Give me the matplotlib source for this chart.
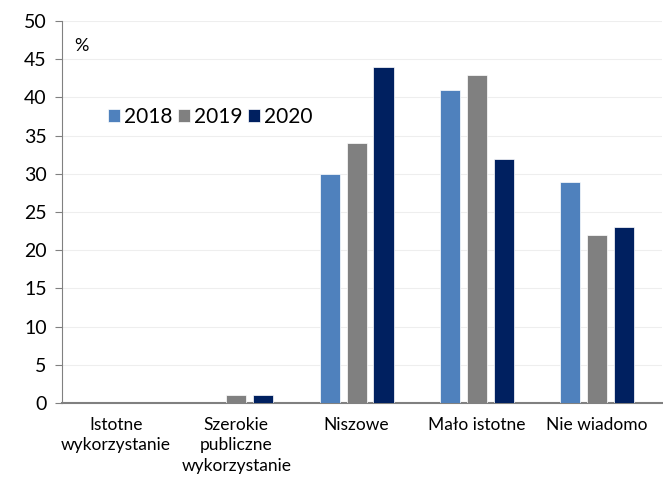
import matplotlib.pyplot as plt
import numpy as np

categories = ["Istotne\nwykorzystanie", "Szerokie\npubliczne\nwykorzystanie",
              "Niszowe", "Mało istotne", "Nie wiadomo"]
years = ["2018", "2019", "2020"]
v2018 = [0, 0, 30, 41, 29]
v2019 = [0, 1, 34, 43, 22]
v2020 = [0, 1, 44, 32, 23]
colors = ["#4f81bd", "#808080", "#002060"]

plt.rcParams['font.family'] = ['Lato', 'DejaVu Sans']

fig = plt.figure(figsize=(6.63, 4.8), dpi=100)
ax = fig.add_axes([0.0935, 0.1604, 0.905, 0.7956])

x = np.arange(len(categories))
width = 0.167
step = 0.224
for i, (vals, lab) in enumerate(zip([v2018, v2019, v2020], years)):
    ax.bar(x + (i - 1) * step, vals, width, color=colors[i], label=lab,
           edgecolor='white', linewidth=0.5, zorder=3)

ax.set_ylim(0, 50)
ax.set_xlim(-0.45, 4.54)
ax.set_yticks(range(0, 51, 5))
ax.tick_params(axis='y', labelsize=14, length=5, color='#808080', pad=6)
ax.tick_params(axis='x', length=0, labelsize=12.5, pad=10)
ax.set_xticks(x)
ax.set_xticklabels(categories, linespacing=1.35, va='top')
ax.grid(axis='y', color='#eeeeee', linewidth=0.8, zorder=0)

for s in ['top', 'right']:
    ax.spines[s].set_visible(False)
ax.spines['left'].set_color('#808080')
ax.spines['bottom'].set_color('#808080')
ax.spines['bottom'].set_linewidth(1.5)

ax.text(0.02, 0.955, "%", transform=ax.transAxes, fontsize=13, va='top')

ax.legend(loc='upper left', bbox_to_anchor=(0.045, 0.825), ncol=3, frameon=False,
          fontsize=15, handlelength=0.58, handleheight=0.58, handletextpad=0.2,
          columnspacing=0.25)

fig.savefig("out.png", dpi=100)
